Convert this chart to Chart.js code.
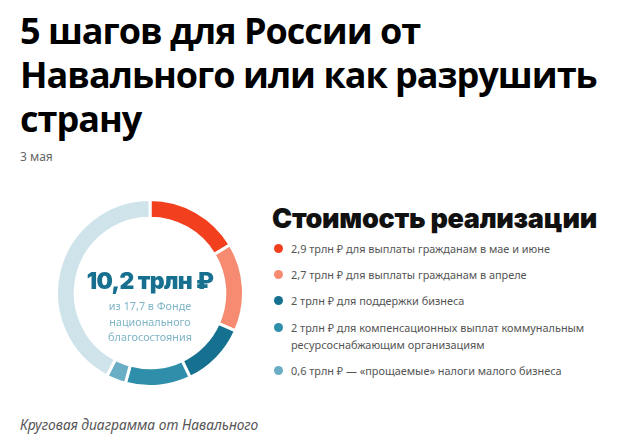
<!DOCTYPE html>
<html>
<head>
<meta charset="utf-8">
<script src="https://cdn.jsdelivr.net/npm/chart.js@4"></script>
<style>
  body { margin: 0; background: #fff; width: 620px; height: 446px; position: relative; overflow: hidden; font-family: "Noto Sans", sans-serif; }
  h1 { position: absolute; left: 20px; top: 9px; margin: 0; font-family: "Open Sans", sans-serif; font-weight: 700; font-size: 36px; line-height: 44px; letter-spacing: -1px; color: #000; }
  .date { position: absolute; left: 20px; top: 148px; font-size: 12px; color: #666; }
  #wrap { position: absolute; left: 55px; top: 198px; width: 190px; height: 190px; }
  .center { position: absolute; left: 50px; width: 200px; text-align: center; }
  .big { top: 267px; font-family: Inter, sans-serif; font-weight: 900; font-size: 23px; color: #17708f; letter-spacing: -0.6px; }
  .sub { top: 298px; font-size: 10.8px; line-height: 15.5px; color: #7fb4c7; }
  .ltitle { position: absolute; left: 272px; top: 202px; font-family: Inter, sans-serif; font-weight: 900; font-size: 27px; color: #111; letter-spacing: -0.3px; }
  #legend { position: absolute; left: 272px; top: 240px; margin: 0; padding: 0; list-style: none; }
  #legend li { position: relative; padding-left: 19px; font-size: 10.9px; line-height: 17px; color: #555; margin-bottom: 9px; width: 320px; }
  #legend li span { position: absolute; left: 2px; top: 4px; width: 9px; height: 9px; border-radius: 50%; }
  #legend li:nth-child(3) { margin-bottom: 10px; }
  .caption { position: absolute; left: 20px; top: 415px; font-style: italic; font-size: 13.8px; color: #555; }
</style>
</head>
<body>
<h1>5 шагов для России от<br>Навального или как разрушить<br>страну</h1>
<div class="date">3 мая</div>
<div id="wrap"><canvas id="myChart" width="190" height="190"></canvas></div>
<div class="center big">10,2 трлн ₽</div>
<div class="center sub">из 17,7 в Фонде<br>национального<br>благосостояния</div>
<div class="ltitle">Стоимость реализации</div>
<ul id="legend"></ul>
<div class="caption">Круговая диаграмма от Навального</div>
<script>
// spending items, trillion rubles
var labels = [
  "2,9 трлн ₽ для выплаты гражданам в мае и июне",
  "2,7 трлн ₽ для выплаты гражданам в апреле",
  "2 трлн ₽ для поддержки бизнеса",
  "2 трлн ₽ для компенсационных выплат коммунальным ресурсоснабжающим организациям",
  "0,6 трлн ₽ — «прощаемые» налоги малого бизнеса"
];
var values = [2.9, 2.7, 2, 2, 0.6];
var fundTotal = 17.7;
var colors = ['#f2401f', '#f68b71', '#15718f', '#2f8fab', '#6aaec5'];
var restColor = '#cfe3ea';

// rest of the fund that is left over
var spent = values.reduce(function (a, b) { return a + b; }, 0);
var rest = Math.round((fundTotal - spent) * 10) / 10;

var ctx = document.getElementById("myChart");
var myChart = new Chart(ctx, {
  type: 'doughnut',
  data: {
    labels: labels.concat(["остаток"]),
    datasets: [{
      data: values.concat([rest]),
      backgroundColor: colors.concat([restColor]),
      borderColor: '#ffffff',
      borderWidth: 3
    }]
  },
  options: {
    responsive: false,
    animation: false,
    cutout: '80%',
    plugins: {
      legend: { display: false },
      tooltip: { enabled: false }
    }
  }
});

// html legend
var legend = document.getElementById("legend");
labels.forEach(function (label, i) {
  var li = document.createElement("li");
  li.innerHTML = '<span style="background:' + colors[i] + '"></span>' + label;
  legend.appendChild(li);
});
</script>
</body>
</html>
